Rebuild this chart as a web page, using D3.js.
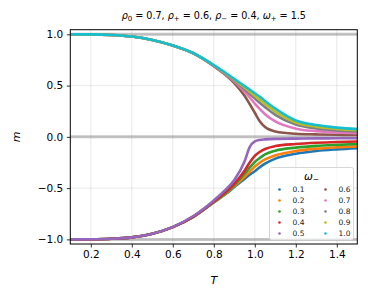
<!DOCTYPE html>
<html>
<head>
<meta charset="utf-8">
<script src="https://cdn.jsdelivr.net/npm/d3@7"></script>
<style>
  body { margin: 0; background: #fff; }
  svg { font-family: "DejaVu Sans", sans-serif; }
</style>
</head>
<body>
<svg id="chart" width="368" height="297"></svg>
<script>
// temperature samples shared by all curves
const T = [0.1, 0.2, 0.3, 0.4, 0.5, 0.6, 0.7, 0.8, 0.85, 0.9, 0.95, 0.975, 1.0, 1.025, 1.05, 1.1, 1.2, 1.3, 1.4, 1.5];

const omegaMinus = ["0.1", "0.2", "0.3", "0.4", "0.5", "0.6", "0.7", "0.8", "0.9", "1.0"];

// magnetisation, one array per omega_-
const m01 = [-1, -0.999, -0.994, -0.98, -0.945, -0.88, -0.78, -0.64, -0.57, -0.49, -0.41, -0.37, -0.335, -0.295, -0.262, -0.212, -0.165, -0.138, -0.122, -0.11];
const m02 = [-1, -0.999, -0.994, -0.98, -0.945, -0.88, -0.78, -0.638, -0.565, -0.48, -0.39, -0.34, -0.29, -0.25, -0.22, -0.18, -0.138, -0.115, -0.102, -0.093];
const m03 = [-1, -0.999, -0.994, -0.98, -0.945, -0.88, -0.78, -0.635, -0.56, -0.47, -0.36, -0.3, -0.245, -0.205, -0.172, -0.135, -0.105, -0.088, -0.078, -0.07];
const m04 = [-1, -0.999, -0.994, -0.98, -0.945, -0.88, -0.778, -0.63, -0.55, -0.455, -0.33, -0.25, -0.185, -0.145, -0.118, -0.09, -0.07, -0.058, -0.05, -0.045];
const m05 = [-1, -0.999, -0.994, -0.98, -0.945, -0.878, -0.772, -0.62, -0.53, -0.42, -0.24, -0.1, -0.045, -0.03, -0.025, -0.02, -0.017, -0.015, -0.014, -0.013];
const m06 = [1, 0.999, 0.993, 0.978, 0.945, 0.89, 0.815, 0.69, 0.615, 0.525, 0.4, 0.32, 0.235, 0.15, 0.095, 0.052, 0.03, 0.024, 0.02, 0.018];
const m07 = [1, 0.999, 0.993, 0.978, 0.945, 0.89, 0.815, 0.692, 0.62, 0.54, 0.44, 0.385, 0.325, 0.27, 0.22, 0.15, 0.08, 0.056, 0.044, 0.036];
const m08 = [1, 0.999, 0.993, 0.978, 0.945, 0.89, 0.815, 0.695, 0.625, 0.55, 0.465, 0.42, 0.375, 0.33, 0.29, 0.215, 0.12, 0.082, 0.063, 0.052];
const m09 = [1, 0.999, 0.993, 0.978, 0.945, 0.89, 0.815, 0.698, 0.63, 0.558, 0.48, 0.44, 0.4, 0.36, 0.32, 0.245, 0.14, 0.1, 0.078, 0.064];
const m10 = [1, 0.999, 0.993, 0.978, 0.945, 0.89, 0.815, 0.7, 0.635, 0.565, 0.495, 0.46, 0.425, 0.39, 0.35, 0.275, 0.16, 0.115, 0.09, 0.075];

const series = [m01, m02, m03, m04, m05, m06, m07, m08, m09, m10];
const refLevels = [1, 0, -1];

const xTicks = [0.2, 0.4, 0.6, 0.8, 1.0, 1.2, 1.4];
const yTicks = [-1.0, -0.5, 0.0, 0.5, 1.0];

const colors = ["#1f77b4", "#ff7f0e", "#2ca02c", "#d62728", "#9467bd",
                "#8c564b", "#e377c2", "#7f7f7f", "#bcbd22", "#17becf"];

const svg = d3.select("#chart");
const margin = {left: 70.3, right: 368 - 357.3, top: 29.7, bottom: 297 - 244};
const W = 368 - margin.left - margin.right;
const H = 297 - margin.top - margin.bottom;

const x = d3.scaleLinear().domain([0.1, 1.5]).range([0, W]);
const y = d3.scaleLinear().domain([-1.045, 1.045]).range([H, 0]);

const g = svg.append("g").attr("transform", `translate(${margin.left},${margin.top})`);

// grid
g.append("g").selectAll("line").data(xTicks).join("line")
    .attr("x1", d => x(d)).attr("x2", d => x(d))
    .attr("y1", 0).attr("y2", H)
    .attr("stroke", "#b0b0b0").attr("stroke-opacity", 0.35).attr("stroke-width", 0.8);
g.append("g").selectAll("line").data(yTicks).join("line")
    .attr("x1", 0).attr("x2", W)
    .attr("y1", d => y(d)).attr("y2", d => y(d))
    .attr("stroke", "#b0b0b0").attr("stroke-opacity", 0.35).attr("stroke-width", 0.8);

// reference lines at m = 1, 0, -1
g.append("g").selectAll("line").data(refLevels).join("line")
    .attr("x1", 0).attr("x2", W)
    .attr("y1", d => y(d)).attr("y2", d => y(d))
    .attr("stroke", "#808080").attr("stroke-opacity", 0.45).attr("stroke-width", 3);

svg.append("clipPath").attr("id", "clip")
    .append("rect").attr("width", W).attr("height", H);

const line = d3.line()
    .x((d, i) => x(T[i]))
    .y(d => y(d))
    .curve(d3.curveMonotoneX);

g.append("g").attr("clip-path", "url(#clip)")
    .selectAll("path").data(series).join("path")
    .attr("d", line)
    .attr("fill", "none")
    .attr("stroke", (d, i) => colors[i])
    .attr("stroke-width", 2.6)
    .attr("stroke-linecap", "square");

// axes
const xAxis = d3.axisBottom(x).tickValues(xTicks).tickFormat(d3.format(".1f")).tickSize(3.5).tickPadding(3.5);
const yAxis = d3.axisLeft(y).tickValues(yTicks).tickFormat(d => d3.format(".1f")(d).replace("-", "\u2212")).tickSize(3.5).tickPadding(3.5);

const gx = g.append("g").attr("transform", `translate(0,${H})`).call(xAxis);
const gy = g.append("g").call(yAxis);
[gx, gy].forEach(a => {
    a.select(".domain").remove();
    a.selectAll(".tick line").attr("stroke", "#000").attr("stroke-width", 0.8);
    a.selectAll(".tick text").attr("fill", "#000").attr("font-size", 10.5)
        .attr("font-family", "DejaVu Sans");
});

g.append("rect").attr("width", W).attr("height", H)
    .attr("fill", "none").attr("stroke", "#000").attr("stroke-width", 1);

// axis labels
svg.append("text").attr("x", margin.left + W / 2).attr("y", 284)
    .attr("text-anchor", "middle").attr("font-size", 11).attr("font-style", "italic").text("T");
svg.append("text")
    .attr("transform", `translate(20,${margin.top + H / 2}) rotate(-90)`)
    .attr("text-anchor", "middle").attr("font-size", 11).attr("font-style", "italic").text("m");

// title
const title = svg.append("text").attr("x", margin.left + W / 2).attr("y", 19)
    .attr("text-anchor", "middle").attr("font-size", 9.6);
const parts = [["ρ", "0", " = 0.7,  "], ["ρ", "+", " = 0.6,  "], ["ρ", "−", " = 0.4,  "], ["ω", "+", " = 1.5"]];
parts.forEach(([sym, sub, rest]) => {
    title.append("tspan").attr("font-style", "italic").text(sym);
    title.append("tspan").attr("font-size", 7).attr("dy", 2).text(sub);
    title.append("tspan").attr("dy", -2).text(rest);
});

// legend
const lg = svg.append("g").attr("transform", "translate(269.5,167.5)");
lg.append("rect").attr("width", 84).attr("height", 72.5).attr("rx", 2)
    .attr("fill", "#fff").attr("fill-opacity", 0.8)
    .attr("stroke", "#cccccc").attr("stroke-width", 0.8);
const lt = lg.append("text").attr("x", 42).attr("y", 12).attr("text-anchor", "middle").attr("font-size", 10.5);
lt.append("tspan").attr("font-style", "italic").text("ω");
lt.append("tspan").attr("font-size", 7.5).attr("dy", 2.5).text("−");

const entries = lg.selectAll("g.entry").data(omegaMinus).join("g")
    .attr("class", "entry")
    .attr("transform", (d, i) => `translate(${i < 5 ? 10 : 56},${22 + (i % 5) * 11})`);
entries.append("circle").attr("r", 1.3).attr("fill", (d, i) => colors[i]);
entries.append("text").attr("x", 13).attr("y", 2.5).attr("font-size", 7.5).attr("fill", "#222").text(d => d);
</script>
</body>
</html>
